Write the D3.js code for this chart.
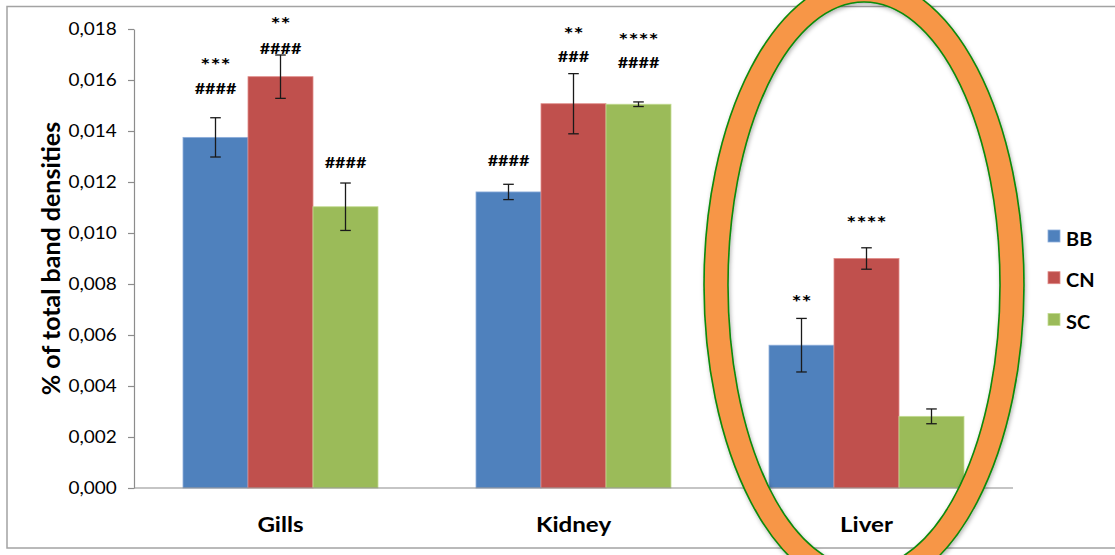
<!DOCTYPE html>
<html>
<head>
<meta charset="utf-8">
<script src="https://cdn.jsdelivr.net/npm/d3@7"></script>
<style>
  body { margin: 0; background: #fff; }
  svg { display: block; }
</style>
</head>
<body>
<svg id="chart" width="1115" height="555"></svg>
<script>
// ---- data ----
const categories = ["Gills", "Kidney", "Liver"];
const seriesNames = ["BB", "CN", "SC"];
const bbValues = [0.01375, 0.01161, 0.00560];
const cnValues = [0.01613, 0.01507, 0.00900];
const scValues = [0.01103, 0.01505, 0.00281];
const bbErrors = [0.00077, 0.00030, 0.00105];
const cnErrors = [0.00085, 0.00118, 0.00042];
const scErrors = [0.00093, 0.00009, 0.00029];
const yTicks = [0, 0.002, 0.004, 0.006, 0.008, 0.010, 0.012, 0.014, 0.016, 0.018];
// significance labels: [category, series, text, level on the value axis]
const sigLabels = [
  ["Gills", "BB", "***", 0.01675],
  ["Gills", "BB", "####", 0.01566],
  ["Gills", "CN", "**", 0.01836],
  ["Gills", "CN", "####", 0.01725],
  ["Gills", "SC", "####", 0.01278],
  ["Kidney", "BB", "####", 0.01285],
  ["Kidney", "CN", "**", 0.01795],
  ["Kidney", "CN", "###", 0.01692],
  ["Kidney", "SC", "****", 0.01774],
  ["Kidney", "SC", "####", 0.01669],
  ["Liver", "BB", "**", 0.00745],
  ["Liver", "CN", "****", 0.01055]
];

const colors = { BB: "#4F81BD", CN: "#C0504D", SC: "#9BBB59" };
const edges = { BB: "#8eaedb", CN: "#e08b88", SC: "#c3dc92" };
const FONT = "Lato, 'Open Sans', sans-serif";

const valueTable = { BB: bbValues, CN: cnValues, SC: scValues };
const errorTable = { BB: bbErrors, CN: cnErrors, SC: scErrors };
const rows = [];
categories.forEach((c, i) => seriesNames.forEach(s => rows.push({
  cat: c, series: s, value: valueTable[s][i], err: errorTable[s][i]
})));

const svg = d3.select("#chart");
const plotLeft = 134, plotRight = 1013, plotTop = 29, plotBottom = 488;

// outer frame
svg.append("rect")
  .attr("x", 7).attr("y", 6.5).attr("width", 1140).attr("height", 541.5)
  .attr("fill", "none").attr("stroke", "#a3a3a3").attr("stroke-width", 1.5);

const x0 = d3.scaleBand().domain(categories).range([plotLeft, plotRight])
  .paddingInner(98 / 293).paddingOuter(49 / 293);
const x1 = d3.scaleBand().domain(seriesNames).range([0, x0.bandwidth()]);
const y = d3.scaleLinear().domain([0, 0.018]).range([plotBottom, plotTop]);

// y axis
const yAxis = svg.append("g")
  .attr("transform", `translate(${plotLeft},0)`)
  .call(d3.axisLeft(y).tickValues(yTicks).tickSize(6).tickSizeOuter(0)
    .tickFormat(d => d3.format(".3f")(d).replace(".", ",")));
yAxis.select(".domain").attr("stroke", "#8c8c8c").attr("stroke-width", 1.2);
yAxis.selectAll(".tick line").attr("stroke", "#8c8c8c").attr("stroke-width", 1.2);
yAxis.selectAll(".tick text")
  .attr("x", -17.3 / 1.15).attr("dy", "0.36em")
  .attr("transform", "scale(1.15,1)")
  .attr("fill", "#000").style("font-family", FONT).style("font-size", "16.5px");

// bars
const groups = svg.append("g").selectAll("g").data(rows).join("g");
groups.append("rect")
  .attr("x", d => x0(d.cat) + x1(d.series))
  .attr("y", d => y(d.value))
  .attr("width", x1.bandwidth())
  .attr("height", d => y(0) - y(d.value))
  .attr("fill", d => colors[d.series])
  .attr("stroke", d => edges[d.series]).attr("stroke-width", 0.8);

// error bars
const cap = 5.3;
const eb = svg.append("g").attr("stroke", "#1a1a1a").attr("stroke-width", 1.3);
rows.forEach(d => {
  const cx = x0(d.cat) + x1(d.series) + x1.bandwidth() / 2;
  const y1 = y(d.value + d.err), y2 = y(d.value - d.err);
  eb.append("line").attr("x1", cx).attr("x2", cx).attr("y1", y1).attr("y2", y2);
  eb.append("line").attr("x1", cx - cap).attr("x2", cx + cap).attr("y1", y1).attr("y2", y1);
  eb.append("line").attr("x1", cx - cap).attr("x2", cx + cap).attr("y1", y2).attr("y2", y2);
});

// x axis line
svg.append("line").attr("x1", plotLeft).attr("x2", plotRight)
  .attr("y1", plotBottom).attr("y2", plotBottom)
  .attr("stroke", "#8c8c8c").attr("stroke-width", 1.2);

// category labels
svg.append("g").selectAll("text").data(categories).join("text")
  .attr("transform", d => `translate(${x0(d) + x0.bandwidth() / 2},532) scale(1.15,1)`)
  .attr("text-anchor", "middle")
  .style("font-family", FONT).style("font-weight", "bold").style("font-size", "21px")
  .text(d => d);

// significance labels (asterisks sit high in the em box, so they get a larger offset)
svg.append("g").selectAll("text").data(sigLabels).join("text")
  .attr("transform", d => {
    const cx = x0(d[0]) + x1(d[1]) + x1.bandwidth() / 2;
    const stars = d[2][0] === "*";
    return `translate(${cx},${y(d[3]) + (stars ? 11 : 5.5)}) scale(${stars ? 1.25 : 1.2},1)`;
  })
  .attr("text-anchor", "middle")
  .style("font-family", FONT).style("font-weight", "bold")
  .style("font-size", d => d[2][0] === "*" ? "19px" : "15px")
  .text(d => d[2]);

// y axis title
svg.append("text")
  .attr("transform", `translate(60,${(plotTop + plotBottom) / 2}) rotate(-90)`)
  .attr("text-anchor", "middle")
  .style("font-family", FONT).style("font-weight", "bold").style("font-size", "25px")
  .text("% of total band densities");

// legend
const legend = svg.append("g").selectAll("g").data(seriesNames).join("g")
  .attr("transform", (d, i) => `translate(1048,${236 + i * 41.7})`);
legend.append("rect").attr("x", 0).attr("y", -6).attr("width", 12).attr("height", 12)
  .attr("fill", d => colors[d]).attr("stroke", d => edges[d]).attr("stroke-width", 0.8);
legend.append("text")
  .attr("transform", "translate(18,9.5) scale(1.05,1)")
  .style("font-family", FONT).style("font-weight", "bold").style("font-size", "19px")
  .text(d => d);

// highlight ring around the Liver group
const defs = svg.append("defs");
const f = defs.append("filter").attr("id", "ringShadow")
  .attr("x", "-20%").attr("y", "-20%").attr("width", "140%").attr("height", "140%");
f.append("feDropShadow").attr("dx", 1).attr("dy", 2).attr("stdDeviation", 2)
  .attr("flood-color", "#000").attr("flood-opacity", 0.3);

function ellipsePath(cx, cy, rx, ry) {
  return `M${cx - rx},${cy}a${rx},${ry} 0 1,0 ${2 * rx},0a${rx},${ry} 0 1,0 ${-2 * rx},0Z`;
}
const ringCx = 864, ringCy = 285;
svg.append("path")
  .attr("d", ellipsePath(ringCx, ringCy, 160, 307) + ellipsePath(ringCx, ringCy, 136, 283))
  .attr("fill-rule", "evenodd")
  .attr("fill", "#F79646")
  .attr("stroke", "#0a8a0a").attr("stroke-width", 1.6)
  .attr("filter", "url(#ringShadow)");
</script>
</body>
</html>
